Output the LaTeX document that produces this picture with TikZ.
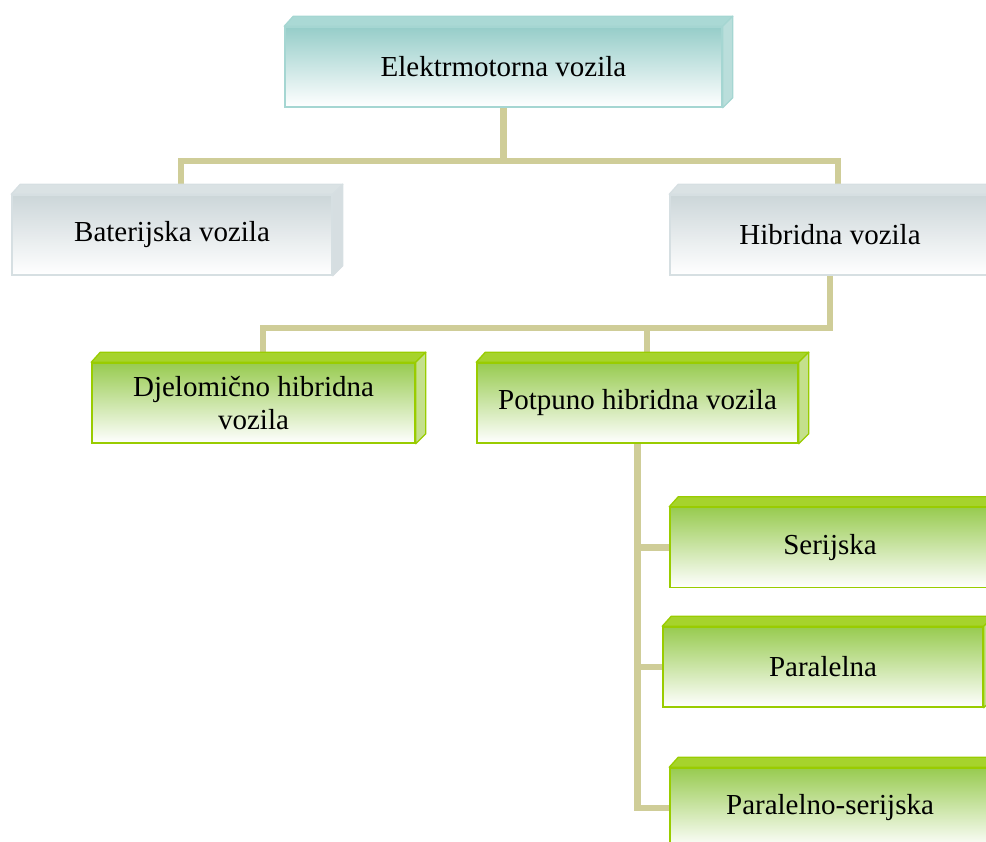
\documentclass[tikz,border=0pt]{standalone}
\usepackage{fontspec}
\setmainfont{Liberation Serif}
\usetikzlibrary{calc}
\pgfdeclarelayer{bg}
\pgfsetlayers{bg,main}
\definecolor{tealtop}{RGB}{150,205,201}
\definecolor{tealline}{RGB}{165,214,210}
\definecolor{tealface}{RGB}{170,217,213}
\definecolor{tealside}{RGB}{186,222,219}
\definecolor{graytop}{RGB}{204,214,217}
\definecolor{grayline}{RGB}{214,223,226}
\definecolor{grayface}{RGB}{218,226,228}
\definecolor{grayside}{RGB}{214,222,225}
\definecolor{greentop}{RGB}{152,203,80}
\definecolor{greenline}{RGB}{153,204,0}
\definecolor{greenface}{RGB}{166,211,44}
\definecolor{greenside}{RGB}{196,224,140}
\definecolor{connc}{RGB}{207,205,152}
\tikzset{
  box/.style={rectangle, minimum width=320pt, minimum height=80pt, inner sep=0pt,
    align=center, font=\fontsize{29}{33}\selectfont, line width=1.5pt},
  tealbox/.style={box, draw=tealline, top color=tealtop, bottom color=white},
  graybox/.style={box, draw=grayline, top color=graytop, bottom color=white},
  greenbox/.style={box, draw=greenline, top color=greentop, bottom color=white},
  conn/.style={draw=connc, line width=6.5pt, line join=miter}
}
\newcommand\threed[4]{%
  \filldraw[fill=#2,draw=#4,line width=1.3pt,line join=round] (#1.north west) -- ++(9,-10)
     -- ([shift={(10,-10)}]#1.north east) -- (#1.north east) -- cycle;
  \filldraw[fill=#3,draw=#4,line width=1.3pt,line join=round] (#1.north east) -- ++(10,-10)
     -- ([shift={(10,-10)}]#1.south east) -- (#1.south east) -- cycle;
}
\begin{document}
\begin{tikzpicture}[x=1pt,y=-1pt]
\useasboundingbox (0,0) rectangle (986,842);
\clip (0,0) rectangle (986,842);

\node[tealbox, minimum width=437pt] (top) at (503.5,67) {Elektrmotorna vozila};
\threed{top}{tealface}{tealside}{tealline}

\node[graybox] (bat) at (172,235) {Baterijska vozila};
\threed{bat}{grayface}{grayside}{grayline}
\node[graybox] (hib) at (830,235) {Hibridna vozila};
\threed{hib}{grayface}{grayside}{grayline}

\node[greenbox, minimum width=323pt] (djel) at (253.5,403) {Djelomično hibridna\\vozila};
\threed{djel}{greenface}{greenside}{greenline}
\node[greenbox, minimum width=321pt] (pot) at (637.5,403) {Potpuno hibridna vozila};
\threed{pot}{greenface}{greenside}{greenline}

\node[greenbox] (ser) at (830,547.5) {Serijska};
\threed{ser}{greenface}{greenside}{greenline}
\node[greenbox] (par) at (823,667) {Paralelna};
\threed{par}{greenface}{greenside}{greenline}
\node[greenbox] (ps) at (830,808) {Paralelno-serijska};
\threed{ps}{greenface}{greenside}{greenline}

\coordinate (row1) at (503.5,161);
\coordinate (row2) at (830,328);

\begin{pgfonlayer}{bg}
\draw[conn] (top.south) -- (row1);
\draw[conn] ([xshift=9pt]bat.north) |- (row1) -| ([xshift=8pt]hib.north);
\draw[conn] (hib.south) -- (row2) -| ([xshift=9.5pt]djel.north);
\draw[conn] ([xshift=9.5pt]pot.north) -- ([xshift=9.5pt]pot.north |- row2);
\draw[conn] (pot.south) |- (ps.west);
\draw[conn] (pot.south |- ser.west) -- (ser.west);
\draw[conn] (pot.south |- par.west) -- (par.west);
\end{pgfonlayer}
\end{tikzpicture}
\end{document}
